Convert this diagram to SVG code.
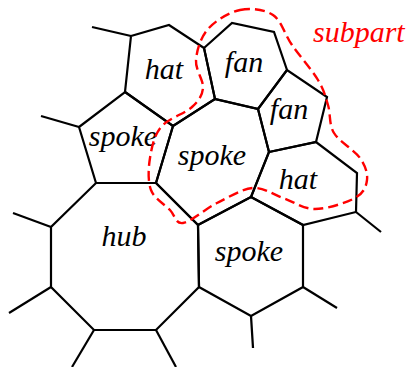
<svg xmlns="http://www.w3.org/2000/svg" width="413" height="367" viewBox="0 0 413 367">
<style>
.cell{fill:none;stroke:#000;stroke-width:2.2;stroke-linejoin:miter}
.stub{fill:none;stroke:#000;stroke-width:2.2}
.lbl{font-family:"Liberation Serif","Times New Roman",serif;font-style:italic;font-size:30px;fill:#000;text-anchor:middle}
.sub{fill:none;stroke:#ff0000;stroke-width:2.4;stroke-dasharray:10 5}
.subl{font-family:"Liberation Serif","Times New Roman",serif;font-style:italic;font-size:30px;fill:#ff0000}
</style>
<rect width="413" height="367" fill="#fff"/>
<g id="hub">
<polygon class="cell" points="96,183 156,183 198,225 199,287 156,330 94,330 51,287 51,227"/>
<text class="lbl" x="124" y="246">hub</text>
</g>
<g id="spoke-left">
<polygon class="cell" points="125,92 173,126 156,183 96,183 79,127"/>
<text class="lbl" x="123" y="146">spoke</text>
</g>
<g id="spoke-mid">
<polygon class="cell" points="173,126 215,99 258,109 269,152 251,197 198,225 156,183"/>
<text class="lbl" x="212" y="165">spoke</text>
</g>
<g id="spoke-right">
<polygon class="cell" points="251,197 303,225 303,287 251,316 199,287 198,225"/>
<text class="lbl" x="249" y="261">spoke</text>
</g>
<g id="hat-top">
<polygon class="cell" points="131,36 169,25 204,48 215,99 173,126 125,92"/>
<text class="lbl" x="164" y="79">hat</text>
</g>
<g id="fan-top">
<polygon class="cell" points="204,48 232,23 274,32 287,70 258,109 215,99"/>
<text class="lbl" x="244" y="72">fan</text>
</g>
<g id="fan-small">
<polygon class="cell" points="258,109 287,70 327,97 316,142 269,152"/>
<text class="lbl" x="289" y="119">fan</text>
</g>
<g id="hat-right">
<polygon class="cell" points="269,152 316,142 357,173 356,212 303,225 251,197"/>
<text class="lbl" x="298" y="189">hat</text>
</g>
<g id="connectors">
<line class="stub" x1="131" y1="36" x2="92" y2="27"/>
<line class="stub" x1="79" y1="127" x2="41" y2="116"/>
<line class="stub" x1="51" y1="227" x2="13" y2="213"/>
<line class="stub" x1="51" y1="287" x2="9" y2="313"/>
<line class="stub" x1="94" y1="330" x2="72" y2="367"/>
<line class="stub" x1="156" y1="330" x2="176" y2="367"/>
<line class="stub" x1="251" y1="316" x2="253" y2="348"/>
<line class="stub" x1="303" y1="287" x2="337" y2="308"/>
<line class="stub" x1="356" y1="212" x2="381" y2="232"/>
</g>
<g id="subpart">
<path class="sub" d="M240,10 C250.8,7.7 264.3,9.2 273,15 C281.7,20.8 284.5,34.2 292,45 C299.5,55.8 312,70 318,80 C324,90 325.3,96.2 328,105 C330.7,113.8 328.7,124.2 334,133 C339.3,141.8 354.5,150.2 360,158 C365.5,165.8 367.8,173.3 367,180 C366.2,186.7 363.7,193.2 355,198 C346.3,202.8 327,209 315,209 C303,209 293.3,201.5 283,198 C272.7,194.5 264,187.2 253,188 C242,188.8 228.7,197.2 217,203 C205.3,208.8 190.8,221.8 183,223 C175.2,224.2 175.3,215.5 170,210 C164.7,204.5 154.3,198.7 151,190 C147.7,181.3 148.3,168.5 150,158 C151.7,147.5 154,135.5 161,127 C168,118.5 185,113.5 192,107 C199,100.5 202.3,95.8 203,88 C203.7,80.2 195.2,69.8 196,60 C196.8,50.2 200.7,37.3 208,29 C215.3,20.7 229.2,12.3 240,10 Z"/>
<text class="subl" x="313" y="42">subpart</text>
</g>
</svg>
